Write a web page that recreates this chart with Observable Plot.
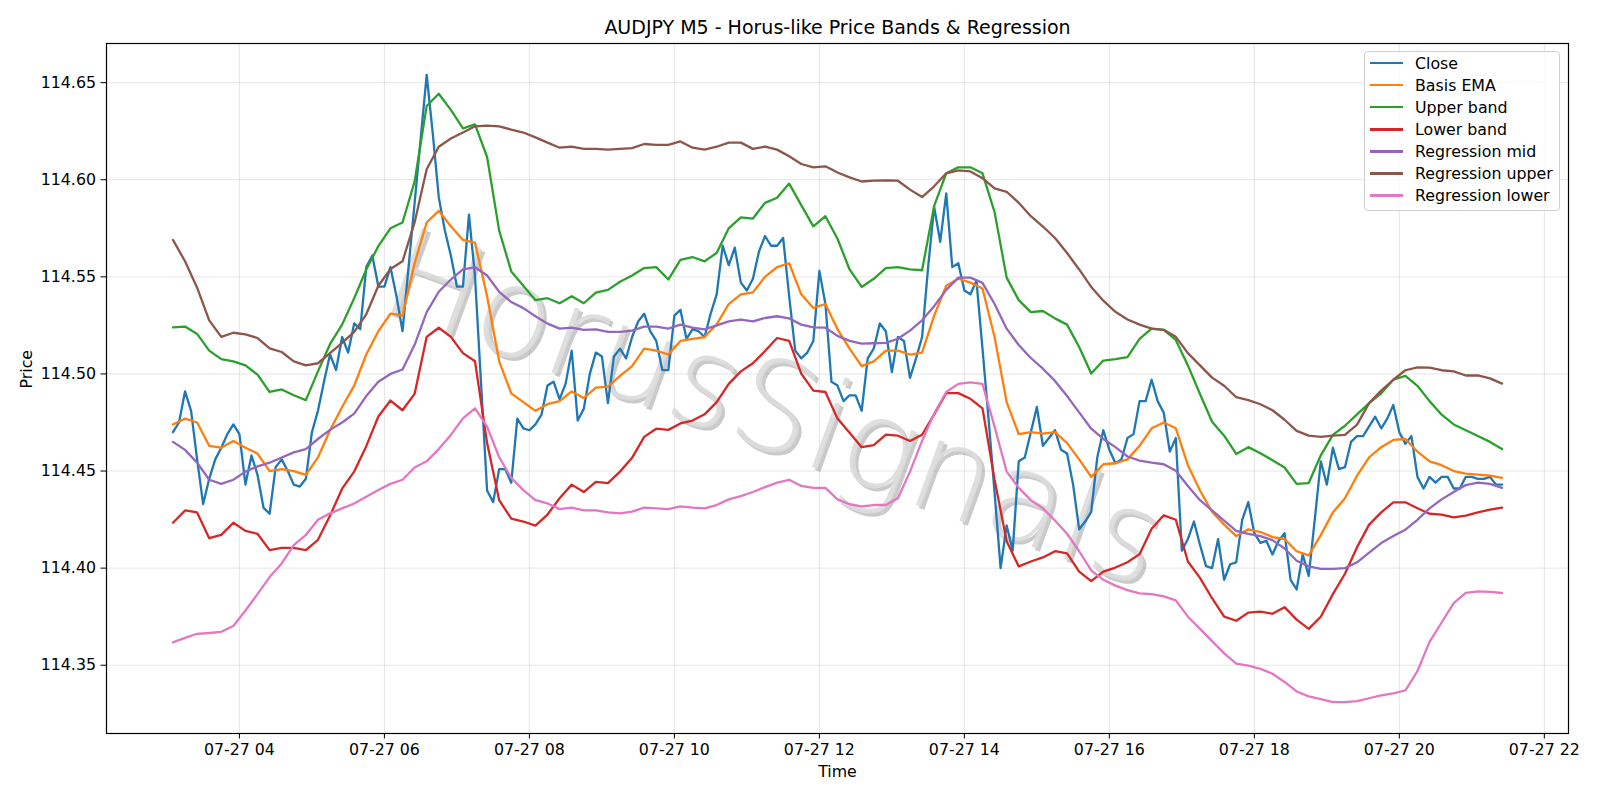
<!DOCTYPE html>
<html>
<head>
<meta charset="utf-8">
<script src="https://cdn.jsdelivr.net/npm/d3@7"></script>
<script src="https://cdn.jsdelivr.net/npm/@observablehq/plot@0.6"></script>
<style>
  html, body { margin: 0; padding: 0; background: white; }
  #wrap { position: relative; width: 1600px; height: 800px; font-family: "DejaVu Sans", sans-serif; }
  #legend { position: absolute; left: 1364px; top: 51px; width: 196px; height: 160px; box-sizing: border-box;
            border: 1px solid #d0d0d0; border-radius: 4px; background: rgba(255,255,255,0.8); padding: 0 0 0 5px; }
  .row { height: 22.1px; display: flex; align-items: center; font-size: 15.8px; color: black; white-space: nowrap; }
  .sw { width: 33px; height: 2.4px; margin-right: 12px; }
  .wm text { font-weight: 200; }
</style>
</head>
<body>
<div id="wrap"><div id="legend"></div></div>
<script>
// ---- Data (AUDJPY M5, 07-27 03:05 .. 21:25) ----
const chartTitle = "AUDJPY M5 - Horus-like Price Bands & Regression";
const startTime = Date.UTC(2024, 6, 27, 3, 5); // first bar 07-27 03:05
const closeStepMinutes = 5;   // close sampled every bar
const bandStepMinutes = 10;   // bands read every other bar

const closeValues = [
114.470,114.475,114.491,114.481,114.456,114.433,114.446,114.456,114.462,114.469,
114.474,114.469,114.443,114.458,114.448,114.431,114.428,114.452,114.456,114.450,
114.443,114.442,114.446,114.470,114.481,114.496,114.510,114.502,114.519,114.511,
114.526,114.523,114.555,114.561,114.545,114.545,114.555,114.540,114.522,114.555,
114.588,114.621,114.654,114.624,114.591,114.574,114.561,114.545,114.545,114.582,
114.550,114.495,114.440,114.434,114.451,114.451,114.444,114.477,114.472,114.471,
114.474,114.479,114.494,114.496,114.487,114.495,114.512,114.476,114.482,114.500,
114.511,114.509,114.485,114.509,114.513,114.508,114.519,114.527,114.531,114.522,
114.517,114.502,114.502,114.530,114.533,114.518,114.523,114.522,114.519,114.531,
114.541,114.566,114.556,114.565,114.547,114.543,114.549,114.563,114.571,114.566,
114.566,114.570,114.540,114.512,114.508,114.511,114.517,114.553,114.536,114.496,
114.494,114.486,114.489,114.489,114.481,114.508,114.513,114.526,114.522,114.501,
114.519,114.517,114.498,114.508,114.519,114.555,114.586,114.568,114.593,114.555,
114.557,114.543,114.541,114.548,114.513,114.477,114.439,114.400,114.422,114.409,
114.455,114.457,114.470,114.483,114.463,114.467,114.471,114.461,114.459,114.443,
114.420,114.424,114.429,114.457,114.471,114.461,114.454,114.456,114.467,114.469,
114.486,114.486,114.497,114.486,114.480,114.460,114.467,114.409,114.415,114.424,
114.412,114.401,114.400,114.415,114.394,114.402,114.403,114.425,114.434,114.418,
114.413,114.414,114.407,114.414,114.418,114.394,114.389,114.407,114.396,114.425,
114.455,114.443,114.462,114.451,114.452,114.465,114.468,114.468,114.473,114.478,
114.472,114.477,114.484,114.470,114.464,114.468,114.447,114.441,114.447,114.444,
114.447,114.447,114.441,114.441,114.447,114.447,114.446,114.446,114.447,114.443,
114.443];

const emaValues = [
114.474,114.477,114.475,114.463,114.462,114.4655,114.462,114.459,114.450,114.451,
114.450,114.448,114.457,114.471,114.483,114.494,114.510,114.522,114.531,114.530,
114.557,114.578,114.584,114.576,114.569,114.5675,114.540,114.5065,114.490,114.4855,
114.481,114.4844,114.486,114.491,114.4876,114.493,114.4935,114.499,114.504,114.513,
114.512,114.510,114.517,114.518,114.519,114.5255,114.536,114.541,114.542,114.550,
114.555,114.557,114.541,114.534,114.536,114.523,114.513,114.504,114.5065,114.512,
114.512,114.510,114.511,114.530,114.5454,114.549,114.547,114.544,114.519,114.4855,
114.469,114.470,114.4693,114.470,114.4644,114.456,114.447,114.4535,114.454,114.456,
114.463,114.472,114.475,114.472,114.453,114.440,114.429,114.4224,114.4165,114.420,
114.4186,114.416,114.415,114.4087,114.4066,114.417,114.4287,114.436,114.4476,114.457,
114.4623,114.466,114.4665,114.460,114.455,114.453,114.450,114.4487,114.4482,114.4476,
114.4465];

const upperValues = [
114.524,114.5244,114.5206,114.512,114.5076,114.5065,114.5044,114.4996,114.4907,114.492,
114.489,114.4865,114.5013,114.5153,114.5254,114.539,114.5538,114.5658,114.575,114.578,
114.599,114.638,114.6443,114.636,114.6264,114.6285,114.6117,114.5738,114.5528,114.5454,
114.538,114.539,114.5364,114.540,114.5364,114.5419,114.5433,114.5475,114.5507,114.5545,
114.555,114.5486,114.5587,114.5602,114.558,114.5623,114.575,114.5806,114.580,114.5881,
114.5907,114.598,114.5869,114.576,114.5812,114.5696,114.5538,114.5448,114.549,114.5545,
114.555,114.5538,114.5534,114.5865,114.6033,114.6064,114.6064,114.6033,114.5833,114.5496,
114.538,114.5318,114.5324,114.5286,114.5254,114.5139,114.5002,114.5069,114.5076,114.5086,
114.518,114.5233,114.5227,114.5175,114.5044,114.4897,114.4754,114.4682,114.4588,114.4623,
114.4592,114.4556,114.4518,114.4434,114.4438,114.4581,114.4686,114.4733,114.4792,114.485,
114.490,114.497,114.499,114.4939,114.486,114.479,114.474,114.471,114.468,114.465,
114.4613];

const lowerValues = [
114.4234,114.4297,114.4287,114.4154,114.4171,114.4234,114.4192,114.4177,114.4093,114.4104,
114.4104,114.4093,114.4146,114.427,114.4409,114.4497,114.4628,114.4781,114.4863,114.4813,
114.4897,114.5191,114.5238,114.5191,114.5107,114.5065,114.4644,114.435,114.4255,114.424,
114.4219,114.4276,114.436,114.443,114.4392,114.4444,114.4438,114.4497,114.4568,114.4676,
114.4718,114.4712,114.4745,114.476,114.4792,114.4855,114.4949,114.5013,114.5055,114.5118,
114.5185,114.517,114.5002,114.4914,114.4907,114.477,114.4697,114.4623,114.4634,114.4687,
114.4682,114.4655,114.4687,114.4792,114.4901,114.4901,114.4872,114.4823,114.4455,114.4139,
114.4009,114.4034,114.4055,114.4087,114.4076,114.3982,114.3933,114.3982,114.4003,114.403,
114.4072,114.4203,114.4272,114.4249,114.4034,114.395,114.3845,114.375,114.3729,114.3771,
114.3776,114.3765,114.3799,114.3735,114.3687,114.375,114.3866,114.3971,114.4108,114.4224,
114.4287,114.4339,114.4339,114.4308,114.428,114.4276,114.4261,114.427,114.4287,114.4301,
114.4312];

const regMidValues = [
114.465,114.4609,114.4543,114.4455,114.4434,114.4455,114.4497,114.4524,114.4543,114.457,
114.4596,114.4613,114.4665,114.4712,114.475,114.4796,114.4886,114.496,114.500,114.5023,
114.515,114.5318,114.5423,114.5486,114.5538,114.5549,114.5507,114.5423,114.537,114.5339,
114.5297,114.5259,114.5233,114.5238,114.5227,114.5229,114.5217,114.5217,114.5223,114.5244,
114.5244,114.5233,114.5254,114.5238,114.5229,114.525,114.5271,114.528,114.5271,114.5288,
114.5297,114.5286,114.5254,114.524,114.5238,114.5196,114.517,114.5156,114.5158,114.516,
114.5181,114.5223,114.5276,114.5349,114.5433,114.5496,114.5496,114.5469,114.536,114.5233,
114.5149,114.5082,114.5027,114.4964,114.4886,114.4802,114.4718,114.4665,114.4623,114.4575,
114.4554,114.4543,114.4535,114.4501,114.4423,114.435,114.4297,114.4245,114.4192,114.4177,
114.4165,114.4144,114.4101,114.4038,114.4009,114.3996,114.3996,114.400,114.403,114.408,
114.4129,114.4165,114.4198,114.4249,114.4308,114.4354,114.4392,114.4428,114.444,114.4434,
114.4413];

const regUpperValues = [
114.569,114.558,114.5444,114.5276,114.5191,114.5212,114.5204,114.5185,114.5132,114.5113,
114.5065,114.5044,114.5055,114.5107,114.516,114.5217,114.5307,114.5454,114.554,114.558,
114.578,114.6054,114.617,114.6212,114.6243,114.6275,114.6279,114.6275,114.6258,114.6243,
114.6218,114.6191,114.6165,114.617,114.6159,114.6159,114.6155,114.6159,114.6163,114.6184,
114.618,114.618,114.6197,114.6165,114.6155,114.617,114.6191,114.6191,114.6159,114.617,
114.6155,114.6121,114.6081,114.6064,114.6069,114.6037,114.6012,114.5991,114.5995,114.5997,
114.5995,114.5949,114.5911,114.5966,114.6033,114.6048,114.6043,114.6008,114.5955,114.5938,
114.5881,114.5812,114.5759,114.570,114.5623,114.5538,114.5448,114.5377,114.532,114.528,
114.5254,114.5233,114.5227,114.5191,114.5107,114.5044,114.4981,114.4939,114.488,114.4865,
114.4844,114.4813,114.4764,114.4707,114.4682,114.4676,114.4682,114.4686,114.4739,114.485,
114.4914,114.497,114.5019,114.5034,114.5032,114.5019,114.5013,114.4992,114.4992,114.4977,
114.495];

const regLowerValues = [
114.3618,114.3641,114.3662,114.3666,114.3672,114.3702,114.3782,114.3866,114.3954,114.4024,
114.4118,114.4171,114.4249,114.4282,114.4308,114.4333,114.4367,114.4402,114.4434,114.4455,
114.4518,114.455,114.4613,114.4686,114.4771,114.4823,114.4729,114.4571,114.4465,114.4402,
114.435,114.4333,114.4304,114.4312,114.4297,114.4297,114.4287,114.4282,114.4291,114.4312,
114.4308,114.4304,114.4318,114.4312,114.4308,114.4325,114.4354,114.4371,114.4392,114.4417,
114.444,114.4455,114.4423,114.4413,114.4413,114.4354,114.4329,114.4318,114.4325,114.4325,
114.436,114.4497,114.4655,114.4796,114.4907,114.4949,114.4956,114.4949,114.4729,114.4497,
114.4413,114.435,114.4308,114.4245,114.4177,114.4087,114.3988,114.394,114.391,114.3887,
114.387,114.3866,114.3855,114.3834,114.375,114.3687,114.3624,114.3561,114.3508,114.3498,
114.3481,114.3456,114.3414,114.3365,114.334,114.3325,114.331,114.331,114.3315,114.333,
114.3345,114.3355,114.337,114.347,114.362,114.372,114.382,114.3873,114.388,114.3878,
114.3872];

const seriesNames = ["Close","Basis EMA","Upper band","Lower band","Regression mid","Regression upper","Regression lower"];
const seriesColors = ["#1f77b4","#ff7f0e","#2ca02c","#d62728","#9467bd","#8c564b","#e377c2"];
const yTickValues = [114.35, 114.40, 114.45, 114.50, 114.55, 114.60, 114.65];
const watermarkText = "HorusSignals";

// ---- Build tables ----
const MIN = 60 * 1000;
const closeRows = closeValues.map((v, i) => ({t: new Date(startTime + i * closeStepMinutes * MIN), v, s: seriesNames[0]}));
const bandSeries = [emaValues, upperValues, lowerValues, regMidValues, regUpperValues, regLowerValues];
const bandRows = bandSeries.map((arr, k) => arr.map((v, i) => ({t: new Date(startTime + i * bandStepMinutes * MIN), v, s: seriesNames[k + 1]})));

const allT = closeRows.map(d => +d.t);
const tMin = d3.min(allT), tMax = d3.max(allT), tPad = (tMax - tMin) * 0.05;
const allV = [closeValues, ...bandSeries].flat();
const vMin = d3.min(allV), vMax = d3.max(allV), vPad = (vMax - vMin) * 0.05;
const xDomain = [new Date(tMin - tPad), new Date(tMax + tPad)];
const yDomain = [vMin - vPad, vMax + vPad];
const xTicks = d3.utcHour.every(2).range(xDomain[0], xDomain[1]);

const lineMarks = [closeRows, ...bandRows].map((rows, k) =>
  Plot.line(rows, {x: "t", y: "v", stroke: seriesColors[k], strokeWidth: 2.3, strokeLinejoin: "round"}));

const wmFont = "'DejaVu Sans ExtraLight', 'DejaVu Sans', sans-serif";
const chart = Plot.plot({
  width: 1600, height: 800,
  marginLeft: 106, marginRight: 32, marginTop: 43, marginBottom: 67,
  style: {fontFamily: "DejaVu Sans, sans-serif", fontSize: "15.8px", color: "black", background: "white", overflow: "visible"},
  x: {type: "utc", domain: xDomain, ticks: xTicks, tickFormat: d3.utcFormat("%m-%d %H"), tickSize: 5.5, tickPadding: 5, label: null, grid: true},
  y: {domain: yDomain, ticks: yTickValues, tickFormat: d3.format(".2f"), tickSize: 5.5, tickPadding: 5, label: null, grid: true},
  marks: [
    Plot.text([watermarkText], {frameAnchor: "middle", dx: -60, dy: 25, rotate: 20, fontSize: 126, fontFamily: wmFont, fontWeight: 200, fill: "#8a8a8a", fillOpacity: 0.45, className: "wm"}),
    Plot.text([watermarkText], {frameAnchor: "middle", dx: -63, dy: 22, rotate: 20, fontSize: 126, fontFamily: wmFont, fontWeight: 200, fill: "#dcdcdc", fillOpacity: 0.9, className: "wm"}),
    ...lineMarks,
    Plot.frame({stroke: "black", strokeWidth: 1.2}),
    Plot.text([chartTitle], {frameAnchor: "top", dy: -23, fontSize: 19}),
    Plot.text(["Time"], {frameAnchor: "bottom", dy: 43, fontSize: 15.8}),
    Plot.text(["Price"], {frameAnchor: "left", dx: -80, rotate: -90, fontSize: 15.8})
  ]
});
document.getElementById("wrap").prepend(chart);

// ---- Legend ----
const legend = document.getElementById("legend");
seriesNames.forEach((name, k) => {
  const row = document.createElement("div");
  row.className = "row";
  const sw = document.createElement("span");
  sw.className = "sw";
  sw.style.background = seriesColors[k];
  row.appendChild(sw);
  row.appendChild(document.createTextNode(name));
  legend.appendChild(row);
});
</script>
</body>
</html>
